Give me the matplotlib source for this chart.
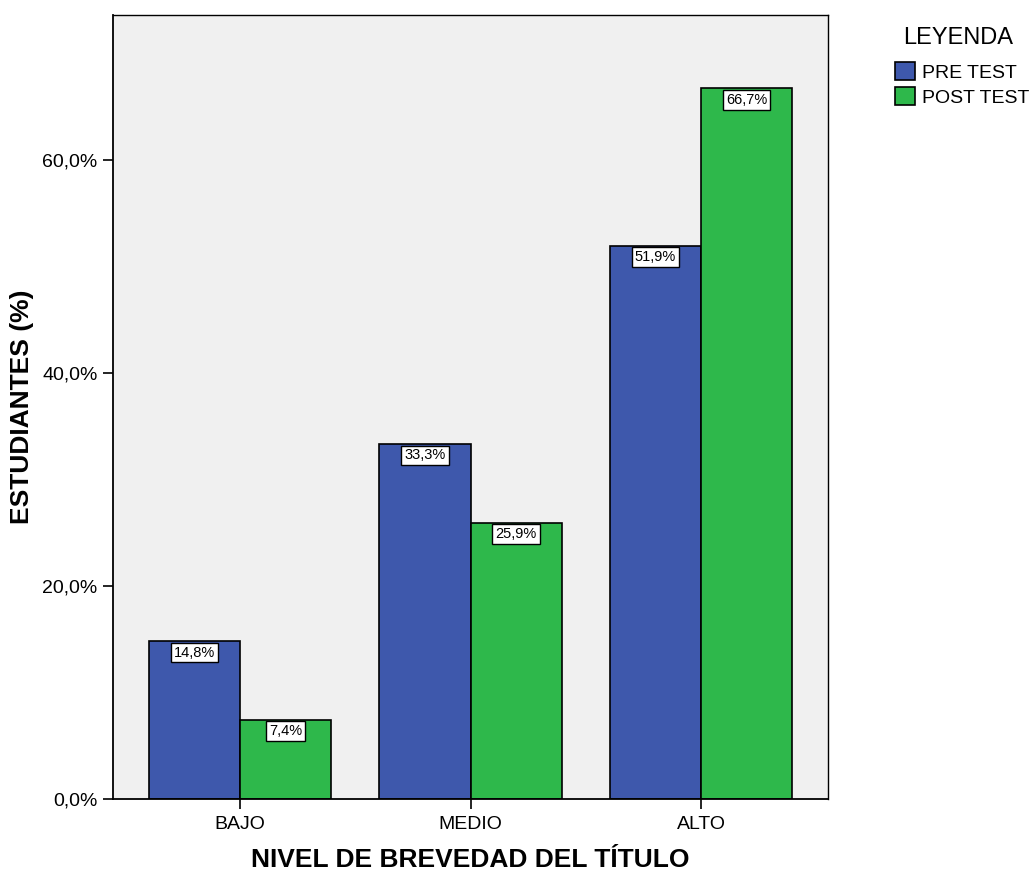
import numpy as np
import matplotlib.pyplot as plt
from matplotlib.ticker import FuncFormatter

plt.rcParams['font.family'] = ['Liberation Sans', 'DejaVu Sans']

categorias = ["BAJO", "MEDIO", "ALTO"]
pre_test = [14.8, 33.3, 51.9]
post_test = [7.4, 25.9, 66.7]
series = ["PRE TEST", "POST TEST"]

azul = "#3E58AC"
verde = "#2EB84B"

fig = plt.figure(figsize=(10.34, 8.72), dpi=100)
ax = fig.add_axes([113 / 1034, 1 - 799 / 872, (828 - 113) / 1034, (799 - 15) / 872])
ax.set_facecolor("#F0F0F0")

x = np.arange(len(categorias))
w = 0.395
b1 = ax.bar(x - w / 2, pre_test, w, color=azul, edgecolor="black", linewidth=1.2, label=series[0])
b2 = ax.bar(x + w / 2, post_test, w, color=verde, edgecolor="black", linewidth=1.2, label=series[1])

# etiquetas dentro de las barras
for barras, vals in [(b1, pre_test), (b2, post_test)]:
    for r, v in zip(barras, vals):
        ax.annotate(f"{v:.1f}%".replace(".", ","),
                    (r.get_x() + r.get_width() / 2, r.get_height()),
                    xytext=(0, -3), textcoords="offset points",
                    ha="center", va="top", fontsize=10.5,
                    bbox=dict(boxstyle="square,pad=0.2", fc="white", ec="black", lw=1))

ax.set_xlim(-0.551, 2.551)
ax.set_ylim(0, 73.6)
ax.set_yticks([0, 20, 40, 60])
ax.yaxis.set_major_formatter(FuncFormatter(lambda v, p: f"{v:.1f}%".replace(".", ",")))
ax.set_xticks(x)
ax.set_xticklabels(categorias)
ax.tick_params(axis="both", labelsize=14, length=7, width=1.2, direction="out")
ax.tick_params(axis="x", pad=5)
ax.tick_params(axis="y", pad=4)

for s in ["top", "right"]:
    ax.spines[s].set_linewidth(1)
for s in ["left", "bottom"]:
    ax.spines[s].set_linewidth(1.3)

ax.set_xlabel("NIVEL DE BREVEDAD DEL TÍTULO", fontsize=19, fontweight="bold", labelpad=11)
ax.set_ylabel("ESTUDIANTES (%)", fontsize=19, fontweight="bold", labelpad=6)

# leyenda con título aparte
fig.text(903 / 1034, 1 - 38 / 872, "LEYENDA", fontsize=17, ha="left", va="center")
leg = fig.legend(handles=[b1, b2], labels=series,
                 loc="upper left", bbox_to_anchor=(895 / 1034, 1 - 62 / 872),
                 frameon=False, fontsize=14, borderpad=0, borderaxespad=0,
                 handlelength=1.05, handleheight=1.05, handletextpad=0.35,
                 labelspacing=0.28)

fig.savefig("out.png", dpi=100)
